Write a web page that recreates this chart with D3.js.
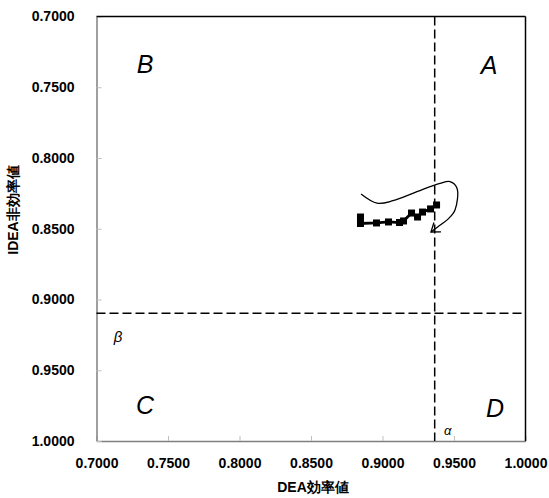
<!DOCTYPE html>
<html>
<head>
<meta charset="utf-8">
<script src="https://cdn.jsdelivr.net/npm/d3@7"></script>
<style>
  html, body { margin: 0; padding: 0; background: #fff; }
  svg text { font-family: "Liberation Sans", Arial, sans-serif; }
</style>
</head>
<body>
<svg id="chart" width="549" height="498"></svg>
<script>
// DEA efficiency (x) vs inverted DEA efficiency (y) trajectory
const deaValues   = [0.8846, 0.8846, 0.8958, 0.9042, 0.9119, 0.9147, 0.9203, 0.9245, 0.9280, 0.9336, 0.9378];
const ideaValues  = [0.8417, 0.8463, 0.8459, 0.8452, 0.8456, 0.8445, 0.8389, 0.8417, 0.8382, 0.8360, 0.8332];
const tickValues  = [0.70, 0.75, 0.80, 0.85, 0.90, 0.95, 1.00];
const alphaValue  = 0.9365;   // DEA threshold
const betaValue   = 0.9098;   // IDEA threshold
const quadrants   = [
  { label: "A", x: 0.9745, y: 0.7405 },
  { label: "B", x: 0.7340, y: 0.7400 },
  { label: "C", x: 0.7340, y: 0.9810 },
  { label: "D", x: 0.9787, y: 0.9830 }
];
// Curved arrow sketching the direction of movement
const arrowPathX = [0.8850, 0.8962, 0.9073, 0.9241, 0.9402, 0.9472, 0.9521, 0.9507, 0.9460, 0.9409, 0.9339];
const arrowPathY = [0.8254, 0.8319, 0.8302, 0.8238, 0.8179, 0.8167, 0.8214, 0.8367, 0.8430, 0.8470, 0.8523];

const svg = d3.select("#chart");
const mLeft = 96.5, mRight = 525.5, mTop = 16.5, mBottom = 441;

const x = d3.scaleLinear().domain([0.7, 1.0]).range([mLeft, mRight]);
const y = d3.scaleLinear().domain([0.7, 1.0]).range([mTop, mBottom]);

// Axes with inward ticks
const xAxis = d3.axisBottom(x).tickValues(tickValues).tickFormat(d3.format(".4f")).tickSizeInner(-5).tickSizeOuter(0).tickPadding(17);
const yAxis = d3.axisLeft(y).tickValues(tickValues).tickFormat(d3.format(".4f")).tickSizeInner(-5).tickSizeOuter(0).tickPadding(22);

const gx = svg.append("g").attr("transform", `translate(0,${mBottom})`).call(xAxis);
const gy = svg.append("g").attr("transform", `translate(${mLeft},0)`).call(yAxis);
[gx, gy].forEach(g => {
  g.select(".domain").attr("stroke", "#7f7f7f").attr("stroke-width", 1.5);
  g.selectAll(".tick line").attr("stroke", "#bfbfbf");
  g.selectAll(".tick text").attr("fill", "#000").attr("font-size", 14).attr("font-weight", "bold");
});

// Top and right frame lines
svg.append("line").attr("x1", mLeft).attr("x2", mRight).attr("y1", mTop).attr("y2", mTop)
  .attr("stroke", "#000").attr("stroke-width", 1.5);
svg.append("line").attr("x1", mRight).attr("x2", mRight).attr("y1", mTop).attr("y2", mBottom)
  .attr("stroke", "#000").attr("stroke-width", 1.5);

// Threshold lines
svg.append("line").attr("x1", x(alphaValue)).attr("x2", x(alphaValue)).attr("y1", mTop).attr("y2", mBottom)
  .attr("stroke", "#000").attr("stroke-width", 1.5).attr("stroke-dasharray", "9,4");
svg.append("line").attr("x1", mLeft).attr("x2", mRight).attr("y1", y(betaValue)).attr("y2", y(betaValue))
  .attr("stroke", "#000").attr("stroke-width", 1.5).attr("stroke-dasharray", "9,4");

// Quadrant labels
svg.selectAll("text.quad").data(quadrants).enter().append("text")
  .attr("class", "quad")
  .attr("x", d => x(d.x)).attr("y", d => y(d.y))
  .attr("text-anchor", "middle")
  .attr("font-size", 25).attr("font-style", "italic")
  .text(d => d.label);

svg.append("text").attr("x", x(0.7150)).attr("y", y(0.9260) + 6)
  .attr("text-anchor", "middle").attr("font-size", 15).attr("font-style", "italic").text("β");
svg.append("text").attr("x", x(alphaValue) + 13).attr("y", y(0.9960))
  .attr("text-anchor", "middle").attr("font-size", 13).attr("font-style", "italic").text("α");

// Trajectory
const pts = deaValues.map((v, i) => [v, ideaValues[i]]);
svg.append("path")
  .attr("d", d3.line().x(d => x(d[0])).y(d => y(d[1]))(pts))
  .attr("fill", "none").attr("stroke", "#000").attr("stroke-width", 2.8);
svg.selectAll("rect.pt").data(pts).enter().append("rect")
  .attr("class", "pt")
  .attr("x", d => x(d[0]) - 3.5).attr("y", d => y(d[1]) - 3.5)
  .attr("width", 7).attr("height", 7).attr("fill", "#000");

// Curved arrow
const arrowPts = arrowPathX.map((v, i) => [x(v), y(arrowPathY[i])]);
svg.append("path")
  .attr("d", d3.line().curve(d3.curveCatmullRom.alpha(0.5))(arrowPts))
  .attr("fill", "none").attr("stroke", "#000").attr("stroke-width", 1.3);
// Open arrowhead aligned with the final segment
const tip = arrowPts[arrowPts.length - 1];
const prev = arrowPts[arrowPts.length - 2];
const ang = Math.atan2(prev[1] - tip[1], prev[0] - tip[0]);
const barb = 10, spread = Math.PI / 5;
const b1 = [tip[0] + barb * Math.cos(ang + spread), tip[1] + barb * Math.sin(ang + spread)];
const b2 = [tip[0] + barb * Math.cos(ang - spread), tip[1] + barb * Math.sin(ang - spread)];
svg.append("path")
  .attr("d", d3.line()([b1, tip, b2]))
  .attr("fill", "none").attr("stroke", "#000").attr("stroke-width", 1.3);

// Axis titles
svg.append("text").attr("x", 313).attr("y", 492)
  .attr("text-anchor", "middle").attr("font-size", 14).attr("font-weight", "bold")
  .attr("font-family", "'Noto Sans CJK JP', sans-serif").text("DEA効率値");
svg.append("text").attr("transform", `translate(18,210) rotate(-90)`)
  .attr("text-anchor", "middle").attr("font-size", 14).attr("font-weight", "bold")
  .attr("font-family", "'Noto Sans CJK JP', sans-serif").text("IDEA非効率値");
</script>
</body>
</html>
